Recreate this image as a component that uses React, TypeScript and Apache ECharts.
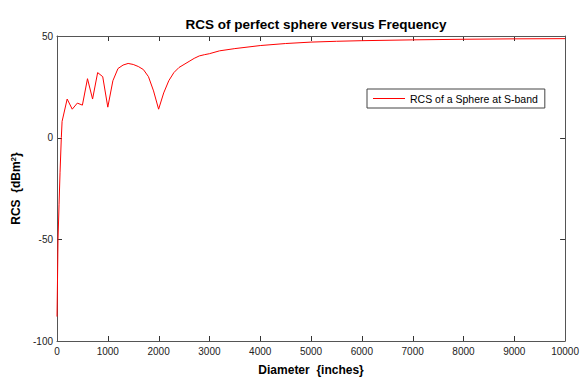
import React, { useEffect, useRef } from "react";
import * as echarts from "echarts";

const diameters = [0, 10, 20, 40, 60, 85, 100, 200, 300, 400, 500, 600, 700, 800, 900, 1000, 1100, 1200, 1300, 1400, 1500, 1600, 1700, 1800, 1900, 2000, 2100, 2200, 2300, 2400, 2500, 2600, 2700, 2800, 2900, 3000, 3200, 3500, 4000, 4500, 5000, 5500, 6000, 7000, 8000, 9000, 10000];
const rcsValues = [-88, -70, -50, -33, -17, 0, 8, 19, 14, 17, 16, 29, 19, 32, 30, 15, 28, 34, 35.7, 36.5, 36, 35, 33.5, 30, 23, 14, 22, 28, 32, 34.5, 36, 37.5, 39, 40.2, 40.8, 41.3, 42.7, 43.8, 45.3, 46.3, 47, 47.4, 47.7, 48.1, 48.4, 48.6, 48.7];
const xTickValues = [0, 1000, 2000, 3000, 4000, 5000, 6000, 7000, 8000, 9000, 10000];
const yTickValues = [-100, -50, 0, 50];
const seriesName = "RCS of a Sphere at S-band";
const titleText = "RCS of perfect sphere versus Frequency";
const xTitle = "Diameter  {inches}";
const xRange = { min: 0, max: 10000, interval: 1000 };
const yRange = { min: -100, max: 50, interval: 50 };

export default function App() {
  const ref = useRef<HTMLDivElement>(null);
  useEffect(() => {
    document.body.style.margin = "0";
    const chart = echarts.init(ref.current!, null, { renderer: "svg" });
    const axisColor = "#555";
    const font = "Arial, 'Liberation Sans', sans-serif";
    const plain = (v: number) => String(v);
    const lineAxis = (position: string) => ({
      type: "value",
      position,
      axisLine: { show: true, onZero: false, lineStyle: { color: axisColor, width: 1 } },
      axisTick: { show: false },
      splitLine: { show: false },
      axisLabel: { show: false },
    });
    chart.setOption({
      animation: false,
      backgroundColor: "#fff",
      textStyle: { fontFamily: font },
      title: {
        text: titleText,
        left: 311,
        textAlign: "center",
        top: 12,
        textStyle: { fontSize: 13.5, fontWeight: "bold", color: "#000", fontFamily: font },
      },
      grid: { left: 57, right: 16, top: 36, bottom: 34 },
      legend: {
        left: 367,
        top: 89,
        orient: "vertical",
        borderColor: "#444",
        borderWidth: 1,
        padding: [4, 7, 4, 6],
        itemWidth: 32,
        itemHeight: 1,
        itemGap: 0,
        icon: "rect",
        textStyle: { fontSize: 10.5, color: "#000", fontFamily: font },
        data: [seriesName],
      },
      xAxis: [
        {
          ...lineAxis("bottom"),
          ...xRange,
          axisLabel: { show: true, fontSize: 10, color: "#222", margin: 5, fontFamily: font, formatter: plain },
          name: xTitle,
          nameLocation: "middle",
          nameGap: 23,
          nameTextStyle: { fontSize: 12, fontWeight: "bold", color: "#000", fontFamily: font },
        },
        { ...lineAxis("top"), ...xRange },
      ],
      yAxis: [
        {
          ...lineAxis("left"),
          ...yRange,
          axisLabel: { show: true, fontSize: 10, color: "#222", margin: 4, fontFamily: font, formatter: plain },
          name: "RCS  {dBm{sup|2}}",
          nameLocation: "middle",
          nameGap: 32,
          nameRotate: 90,
          nameTextStyle: {
            fontSize: 12,
            fontWeight: "bold",
            color: "#000",
            fontFamily: font,
            rich: {
              sup: { fontSize: 8, fontWeight: "bold", verticalAlign: "top", padding: [0, 0, 6, 0], fontFamily: font },
            },
          },
        },
        { ...lineAxis("right"), ...yRange },
      ],
      series: [
        {
          name: seriesName,
          type: "line",
          symbol: "none",
          xAxisIndex: 0,
          yAxisIndex: 0,
          lineStyle: { color: "#ff0000", width: 1 },
          itemStyle: { color: "#ff0000" },
          data: diameters.map((d, i) => [d, rcsValues[i]]),
        },
      ],
    });

    try {
      const toX = (v: number) => chart.convertToPixel({ xAxisIndex: 0 }, v) as number;
      const toY = (v: number) => chart.convertToPixel({ yAxisIndex: 0 }, v) as number;
      const topPx = toY(yRange.max);
      const bottomPx = toY(yRange.min);
      const leftPx = toX(xRange.min);
      const rightPx = toX(xRange.max);
      const len = 5;
      const tickStyle = { stroke: "#333", lineWidth: 1 };
      const elements: any[] = [];
      xTickValues.forEach((v) => {
        const px = Math.round(toX(v)) + 0.5;
        if (v === xRange.min || v === xRange.max) return;
        elements.push({ type: "line", silent: true, shape: { x1: px, y1: bottomPx, x2: px, y2: bottomPx - len }, style: tickStyle });
        elements.push({ type: "line", silent: true, shape: { x1: px, y1: topPx, x2: px, y2: topPx + len }, style: tickStyle });
      });
      yTickValues.forEach((v) => {
        const py = Math.round(toY(v)) + 0.5;
        if (v === yRange.min || v === yRange.max) return;
        elements.push({ type: "line", silent: true, shape: { x1: leftPx, y1: py, x2: leftPx + len, y2: py }, style: tickStyle });
        elements.push({ type: "line", silent: true, shape: { x1: rightPx, y1: py, x2: rightPx - len, y2: py }, style: tickStyle });
      });
      if (isFinite(topPx) && isFinite(leftPx)) {
        chart.setOption({ graphic: elements });
      }
    } catch (e) {
      // leave chart without extra ticks
    }
    return () => chart.dispose();
  }, []);
  return <div ref={ref} style={{ width: 582, height: 381 }} />;
}
